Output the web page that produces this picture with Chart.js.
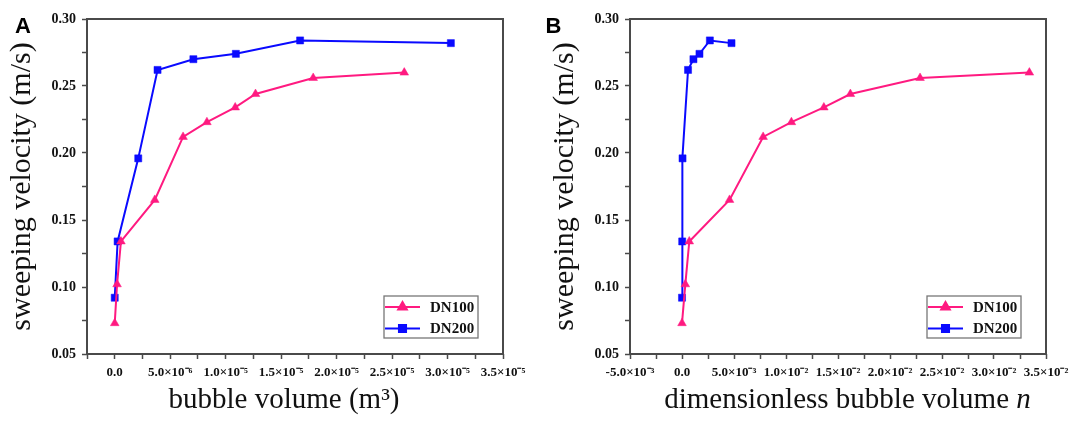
<!DOCTYPE html>
<html><head><meta charset="utf-8">
<script src="https://cdn.jsdelivr.net/npm/chart.js@4.4.1/dist/chart.umd.min.js"></script>
<style>
html,body{margin:0;padding:0;background:#fff;width:1075px;height:421px;overflow:hidden}
canvas{position:absolute;top:0}
#ca{left:0}
#cb{left:543px}
</style></head><body>
<canvas id="ca" width="537" height="421"></canvas>
<canvas id="cb" width="532" height="421"></canvas>
<script>
// ---------------- data ----------------
const seriesNames = ['DN100', 'DN200'];
const seriesColors = ['#ff1a80', '#0a0aff'];
const seriesMarkers = ['triangle', 'rect'];

const velocityDN100 = [0.073, 0.102, 0.134, 0.165, 0.212, 0.223, 0.234, 0.244, 0.256, 0.260];
const velocityDN200 = [0.092, 0.134, 0.196, 0.262, 0.270, 0.274, 0.284, 0.282];

// panel A: bubble volume (m3)
const volumeDN100 = [0, 2.1e-7, 5.6e-7, 3.61e-6, 6.16e-6, 8.31e-6, 1.086e-5, 1.269e-5, 1.789e-5, 2.61e-5];
const volumeDN200 = [0, 2.6e-7, 2.12e-6, 3.86e-6, 7.09e-6, 1.092e-5, 1.671e-5, 3.03e-5];

// panel B: dimensionless bubble volume n
const nDN100 = [0, 3.2e-4, 7.0e-4, 4.57e-3, 7.8e-3, 1.052e-2, 1.364e-2, 1.619e-2, 2.289e-2, 3.34e-2];
const nDN200 = [0, 2e-5, 5e-5, 5.8e-4, 1.1e-3, 1.68e-3, 2.68e-3, 4.76e-3];

const velocityTicks = [0.05, 0.10, 0.15, 0.20, 0.25, 0.30];
const velocityTickLabels = ['0.05', '0.10', '0.15', '0.20', '0.25', '0.30'];
const volumeTicks = [0, 5e-6, 1e-5, 1.5e-5, 2e-5, 2.5e-5, 3e-5, 3.5e-5];
const volumeTickLabels = ['0.0', '5.0×10⁻⁶', '1.0×10⁻⁵', '1.5×10⁻⁵', '2.0×10⁻⁵', '2.5×10⁻⁵', '3.0×10⁻⁵', '3.5×10⁻⁵'];
const nTicks = [-5e-3, 0, 5e-3, 1e-2, 1.5e-2, 2e-2, 2.5e-2, 3e-2, 3.5e-2];
const nTickLabels = ['-5.0×10⁻³', '0.0', '5.0×10⁻³', '1.0×10⁻²', '1.5×10⁻²', '2.0×10⁻²', '2.5×10⁻²', '3.0×10⁻²', '3.5×10⁻²'];

const yTitle = 'sweeping velocity (m/s)';
const xTitleA = [['bubble volume (m³)', 'normal']];
const xTitleB = [['dimensionless bubble volume ', 'normal'], ['n', 'italic']];
const panelLetters = ['A', 'B'];

// ---------------- helpers ----------------
function withMinor(majors, min) {
  const step = majors[1] - majors[0];
  const out = [];
  const first = majors[0] - step / 2;
  if (first >= min - Math.abs(step) * 1e-6) out.push(first);
  majors.forEach((m, i) => { out.push(m); if (i < majors.length - 1) out.push(m + step / 2); });
  return out;
}
function labelFor(majors, labels) {
  const step = Math.abs(majors[1] - majors[0]);
  return v => { const i = majors.findIndex(m => Math.abs(m - v) < step * 1e-6); return i >= 0 ? labels[i] : ''; };
}
function pts(xs, ys) { return xs.map((x, i) => ({ x: x, y: ys[i] })); }

const AXIS = '#4a4a4a';
const SERIF = '"Liberation Serif", "Times New Roman", serif';

function decor(letter, letterX, titleParts, titleShift) {
  return {
    id: 'decor' + letter,
    afterDraw(chart) {
      const { ctx, chartArea: a } = chart;
      ctx.save();
      // frame
      ctx.strokeStyle = AXIS; ctx.lineWidth = 2;
      ctx.strokeRect(a.left, a.top, a.right - a.left, a.bottom - a.top);
      // legend
      const bw = 94, bh = 42, bx = a.right - 25 - bw, by = a.bottom - 16 - bh;
      ctx.fillStyle = '#fff'; ctx.fillRect(bx, by, bw, bh);
      ctx.strokeStyle = '#777'; ctx.lineWidth = 1.3; ctx.strokeRect(bx, by, bw, bh);
      chart.data.datasets.forEach((ds, i) => {
        const y = by + 11 + i * 21.5;
        ctx.strokeStyle = ds.borderColor; ctx.lineWidth = 2;
        ctx.beginPath(); ctx.moveTo(bx + 1, y); ctx.lineTo(bx + 36, y); ctx.stroke();
        ctx.fillStyle = ds.backgroundColor; ctx.strokeStyle = ds.borderColor;
        Chart.helpers.drawPoint(ctx, { pointStyle: ds.pointStyle, radius: 5, borderWidth: 0.5, rotation: 0 }, bx + 18.5, y);
        ctx.fillStyle = '#111';
        ctx.font = 'bold 15px ' + SERIF;
        ctx.textBaseline = 'middle'; ctx.textAlign = 'left';
        ctx.fillText(ds.label, bx + 46, y + 1);
      });
      // x axis title
      ctx.fillStyle = '#111'; ctx.textBaseline = 'alphabetic'; ctx.textAlign = 'left';
      let total = 0;
      titleParts.forEach(p => { ctx.font = p[1] + ' 29px ' + SERIF; total += ctx.measureText(p[0]).width; });
      let x = (a.left + a.right) / 2 + titleShift - total / 2;
      titleParts.forEach(p => { ctx.font = p[1] + ' 29px ' + SERIF; ctx.fillText(p[0], x, a.bottom + 54); x += ctx.measureText(p[0]).width; });
      // panel letter
      ctx.font = 'bold 22px "Liberation Sans", Arial, sans-serif';
      ctx.fillStyle = '#000';
      ctx.fillText(letter, letterX, 33);
      ctx.restore();
    }
  };
}

function makeChart(id, xs100, xs200, xMajors, xLabels, xMin, xMax, rightPad, letter, letterX, titleParts, titleShift) {
  return new Chart(document.getElementById(id), {
    type: 'line',
    data: {
      datasets: [
        { label: seriesNames[0], data: pts(xs100, velocityDN100), borderColor: seriesColors[0], backgroundColor: seriesColors[0],
          pointStyle: seriesMarkers[0], pointRadius: 5, pointBorderWidth: 0.5, borderWidth: 2, tension: 0, fill: false },
        { label: seriesNames[1], data: pts(xs200, velocityDN200), borderColor: seriesColors[1], backgroundColor: seriesColors[1],
          pointStyle: seriesMarkers[1], pointRadius: 5, pointBorderWidth: 0.5, borderWidth: 2, tension: 0, fill: false }
      ]
    },
    options: {
      responsive: false, animation: false, devicePixelRatio: 1,
      layout: { padding: { left: 0, right: rightPad, top: 19, bottom: 0 } },
      plugins: { legend: { display: false }, tooltip: { enabled: false } },
      scales: {
        x: {
          type: 'linear', min: xMin, max: xMax,
          afterBuildTicks: s => { s.ticks = withMinor(xMajors, xMin).map(v => ({ value: v })); },
          afterFit: s => { s.height = 67; },
          grid: { display: true, drawOnChartArea: false, drawTicks: true, tickLength: 5, tickColor: AXIS, tickWidth: 1.5 },
          border: { display: false },
          ticks: { callback: labelFor(xMajors, xLabels), autoSkip: false, maxRotation: 0, minRotation: 0, padding: 6,
                   color: '#111', font: { family: SERIF, size: 13, weight: 'bold' } }
        },
        y: {
          type: 'linear', min: 0.05, max: 0.30,
          afterBuildTicks: s => { s.ticks = withMinor(velocityTicks, 0.05).map(v => ({ value: v })); },
          afterFit: s => { s.width = 87; },
          grid: { display: true, drawOnChartArea: false, drawTicks: true, tickLength: 5, tickColor: AXIS, tickWidth: 1.5 },
          border: { display: false },
          ticks: { callback: labelFor(velocityTicks, velocityTickLabels), autoSkip: false, padding: 6,
                   color: '#111', font: { family: SERIF, size: 14, weight: 'bold' } },
          title: { display: true, text: yTitle, color: '#111', padding: { top: 4, bottom: 0 },
                   font: { family: SERIF, size: 30, weight: 'normal' } }
        }
      }
    },
    plugins: [decor(letter, letterX, titleParts, titleShift)]
  });
}

makeChart('ca', volumeDN100, volumeDN200, volumeTicks, volumeTickLabels, -2.5e-6, 3.5e-5, 34, panelLetters[0], 15, xTitleA, -11);
makeChart('cb', nDN100, nDN200, nTicks, nTickLabels, -5e-3, 3.5e-2, 29, panelLetters[1], 2.5, xTitleB, 9.5);
</script>
</body></html>
